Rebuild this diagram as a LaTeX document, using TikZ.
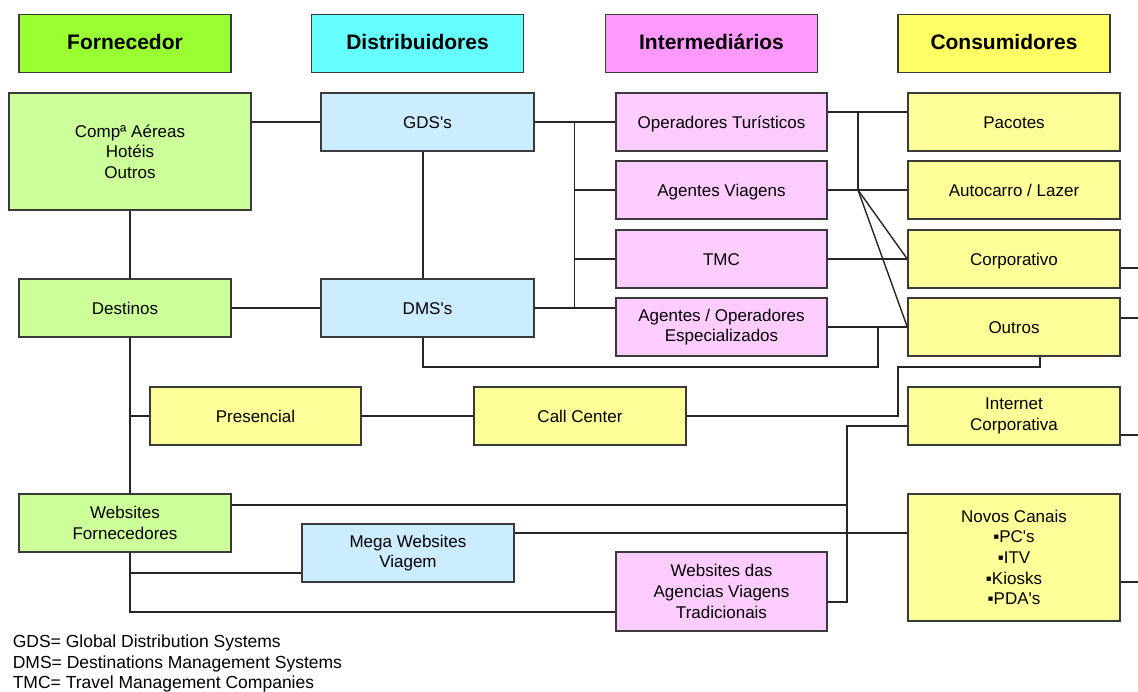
\documentclass[tikz,border=0pt]{standalone}
\usepackage{fontspec}
\setmainfont{Liberation Sans}[Ligatures=TeXOff]
\usetikzlibrary{calc}
\definecolor{hdrgreen}{HTML}{99FF33}
\definecolor{hdrcyan}{HTML}{66FFFF}
\definecolor{hdrpink}{HTML}{FF99FF}
\definecolor{hdryellow}{HTML}{FFFF66}
\definecolor{boxgreen}{HTML}{CCFF99}
\definecolor{boxblue}{HTML}{CCECFF}
\definecolor{boxpink}{HTML}{FFCCFF}
\definecolor{boxyellow}{HTML}{FFFF99}
\definecolor{edgegray}{HTML}{3A3A3A}
\begin{document}
\begin{tikzpicture}[x=1pt,y=-1pt,
  box/.style={draw=edgegray, line width=1.4pt, minimum width=212, minimum height=58,
    align=center, inner sep=0pt, font=\fontsize{17}{20.6}\selectfont},
  single/.style={text height=12.6pt, text depth=0pt},
  hdr/.style={box, single, font=\fontsize{21}{25}\selectfont\bfseries},
  wire/.style={draw=black!85, line width=1.4pt},
  legend/.style={anchor=base west, inner sep=0pt, font=\fontsize{17.5}{21}\selectfont}]
\useasboundingbox[fill=white] (0,0) rectangle (1138,691);

% column headers
\node[hdr, fill=hdrgreen]  (hforn) at (125,43.5)    {Fornecedor};
\node[hdr, fill=hdrcyan]   (hdist) at (417.5,43.5)  {Distribuidores};
\node[hdr, fill=hdrpink]   (hint)  at (711.5,43.5)  {Intermediários};
\node[hdr, fill=hdryellow] (hcons) at (1004,43.5)   {Consumidores};

% suppliers
\node[box, fill=boxgreen, minimum width=242, minimum height=117] (comp) at (130,151.5) {Compª Aéreas\\Hotéis\\Outros};
\node[box, single, fill=boxgreen] (dest) at (125,308) {Destinos};
\node[box, fill=boxgreen] (webf) at (125,523) {Websites\\Fornecedores};

% distributors
\node[box, single, fill=boxblue, minimum width=213] (gds)  at (427.5,122) {GDS's};
\node[box, single, fill=boxblue, minimum width=213] (dms)  at (427.5,308) {DMS's};
\node[box, fill=boxblue] (mega) at (408,553) {Mega Websites\\Viagem};

% intermediaries
\node[box, single, fill=boxpink, minimum width=211] (oper)  at (721.5,122) {Operadores Turísticos};
\node[box, single, fill=boxpink, minimum width=211] (agv)   at (721.5,190) {Agentes Viagens};
\node[box, single, fill=boxpink, minimum width=211] (tmc)   at (721.5,259) {TMC};
\node[box, fill=boxpink, minimum width=211] (agop)  at (721.5,327) {Agentes / Operadores\\Especializados};
\node[box, fill=boxpink, minimum width=211, minimum height=79] (webag) at (721.5,591.5) {Websites das\\Agencias Viagens\\Tradicionais};

% consumers
\node[box, single, fill=boxyellow] (pac)    at (1014,122) {Pacotes};
\node[box, single, fill=boxyellow] (auto)   at (1014,190) {Autocarro / Lazer};
\node[box, single, fill=boxyellow] (corp)   at (1014,259) {Corporativo};
\node[box, single, fill=boxyellow] (outros) at (1014,327) {Outros};
\node[box, fill=boxyellow] (inet)   at (1014,416) {Internet\\Corporativa};
\node[box, fill=boxyellow, minimum height=127] (novos) at (1014,557.5) {Novos Canais\\▪PC's\\▪ITV\\▪Kiosks\\▪PDA's};

% channels
\node[box, single, fill=boxyellow, minimum width=211] (pres) at (255.5,416) {Presencial};
\node[box, single, fill=boxyellow] (cc)   at (580,416)   {Call Center};

% junction points
\coordinate (col)   at (130,0);
\coordinate (bus)   at (574.5,0);
\coordinate (rbus)  at (858,190);
\coordinate (rtop)  at (858,112);
\coordinate (spl)   at (878,0);
\coordinate (low)   at (0,367);
\coordinate (ccx)   at (898,0);
\coordinate (wbus)  at (847,0);
\coordinate (edgeR) at (1138,0);

% supplier column links
\draw[wire] (comp.east |- gds) -- (gds.west);
\draw[wire] (comp.south) -- (comp.south -| col) -- (col |- dest.north);
\draw[wire] (dest.east) -- (dms.west);
\draw[wire] (dest.south -| col) -- (col |- webf.north);
\draw[wire] (col |- pres) -- (pres.west);
\draw[wire] (webf.south -| col) -- ($(col)+(0,612)$) -- ($(webag.west |- col)+(0,612)$);
\draw[wire] ($(col)+(0,573)$) -- ($(mega.west |- col)+(0,573)$);

% distributors to intermediaries
\draw[wire] ($(gds.south)+(-4.5,0)$) -- ($(dms.north)+(-4.5,0)$);
\draw[wire] (gds.east) -- (oper.west);
\draw[wire] (bus |- gds) -- (bus |- dms);
\draw[wire] (bus |- agv) -- (agv.west);
\draw[wire] (bus |- tmc) -- (tmc.west);
\draw[wire] (dms.east) -- (dms.east -| agop.west);

% intermediaries to consumers
\draw[wire] (oper.east |- rtop) -- (pac.west |- rtop);
\draw[wire] (rtop) -- (rbus);
\draw[wire] (agv.east) -- (auto.west);
\draw[wire] (rbus) -- (corp.west);
\draw[wire] (rbus) -- (outros.west);
\draw[wire] (tmc.east) -- (corp.west);
\draw[wire] (agop.east) -- (outros.west);
\draw[wire] (spl |- agop) -- (spl |- low) -- ($(dms.south |- low)+(-4.5,0)$) -- ($(dms.south)+(-4.5,0)$);
\draw[wire] ($(outros.south)+(26,0)$) -- ($(outros.south |- low)+(26,0)$) -- (ccx |- low) -- (ccx |- cc) -- (cc.east);
\draw[wire] (pres.east) -- (cc.west);

% web channels
\draw[wire] ($(webf.east)+(0,-18)$) -- ($(wbus |- webf)+(0,-18)$);
\draw[wire] ($(inet.west)+(0,10)$) -- ($(wbus |- inet)+(0,10)$) -- ($(wbus |- webag)+(0,10.5)$) -- ($(webag.east)+(0,10.5)$);
\draw[wire] ($(mega.east)+(0,-20)$) -- ($(novos.west |- mega)+(0,-20)$);

% links leaving to the right
\draw[wire] ($(corp.east)+(0,9)$)    -- ($(edgeR |- corp)+(0,9)$);
\draw[wire] ($(outros.east)+(0,-9)$) -- ($(edgeR |- outros)+(0,-9)$);
\draw[wire] ($(inet.east)+(0,19)$)   -- ($(edgeR |- inet)+(0,19)$);
\draw[wire] ($(novos.east)+(0,24.5)$) -- ($(edgeR |- novos)+(0,24.5)$);

% legend
\node[legend] (lg1) at (12.6,647.5) {GDS= Global Distribution Systems};
\node[legend] (lg2) at (12.6,668.2) {DMS= Destinations Management Systems};
\node[legend] (lg3) at (12.6,688.6) {TMC= Travel Management Companies};
\end{tikzpicture}
\end{document}
